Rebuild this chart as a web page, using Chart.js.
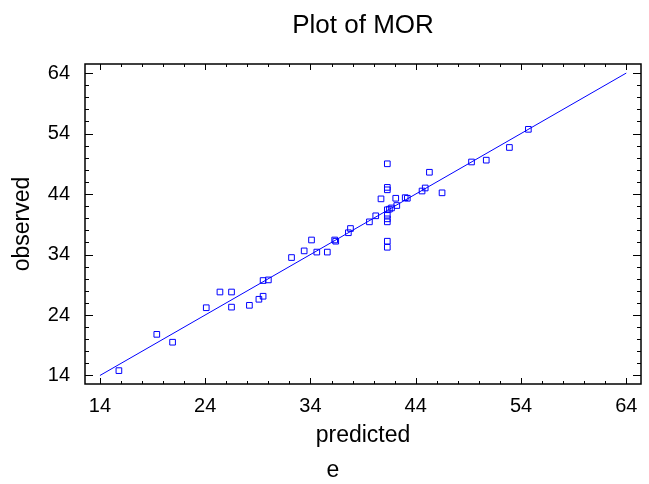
<!DOCTYPE html>
<html lang="en">
<head>
    <meta charset="UTF-8">
    <title>Plot of MOR</title>
    <script src="https://cdn.jsdelivr.net/npm/chart.js"></script>
    <style>
        body { margin: 0; background: #fff; }
    </style>
</head>
<body>
    <canvas id="myChart" width="649" height="484"></canvas>

<script>
    const predicted = [15.8, 19.4, 20.9, 24.1, 25.4, 26.5, 26.5, 28.2, 29.1, 29.5,
        29.5, 30.0, 32.2, 33.4, 34.1, 34.6, 35.6, 36.3, 36.4, 37.6,
        37.8, 39.6, 40.2, 40.7, 41.3, 41.3, 41.3, 41.3, 41.3, 41.3,
        41.3, 41.3, 41.3, 41.5, 41.7, 42.1, 42.2, 43.0, 43.2, 44.6,
        44.9, 45.3, 46.5, 49.3, 50.7, 52.9, 54.7]
    const observed = [14.8, 20.8, 19.5, 25.2, 27.8, 27.8, 25.3, 25.6, 26.6, 27.1,
        29.7, 29.8, 33.5, 34.6, 36.4, 34.4, 34.4, 36.4, 36.2, 37.6,
        38.3, 39.4, 40.4, 43.2, 49.0, 45.1, 44.7, 41.4, 40.5, 39.9,
        39.4, 36.2, 35.2, 41.5, 41.7, 43.3, 42.1, 43.4, 43.3, 44.5,
        45.0, 47.6, 44.2, 49.3, 49.6, 51.7, 54.7]

    // reference line (observed = predicted)
    const lineX = [14, 64]
    const lineY = [14, 64]

    const tickValues = [14, 24, 34, 44, 54, 64]
    const minorStep = 2
    const xMin = 12.58, xMax = 65.4
    const yMin = 12.59, yMax = 65.5

    const fontFamily = '"Liberation Sans", Arial, Helvetica, sans-serif'

    const framePlugin = {
        id: 'frame',
        afterDraw(chart) {
            const { ctx, chartArea: a, scales } = chart
            const x = scales.x, y = scales.y
            ctx.save()
            ctx.strokeStyle = '#000'
            ctx.lineWidth = 1
            ctx.beginPath()
            for (let v = tickValues[0]; v <= tickValues[tickValues.length - 1]; v += minorStep) {
                const major = tickValues.includes(v)
                const px = Math.round(x.getPixelForValue(v)) + 0.5
                const lx = major ? 6 : 3
                ctx.moveTo(px, a.bottom); ctx.lineTo(px, a.bottom - lx)
                ctx.moveTo(px, a.top); ctx.lineTo(px, a.top + lx)
                const py = Math.round(y.getPixelForValue(v)) + 0.5
                const ly = major ? 8 : 4
                ctx.moveTo(a.left, py); ctx.lineTo(a.left + ly, py)
                ctx.moveTo(a.right, py); ctx.lineTo(a.right - ly, py)
            }
            ctx.stroke()
            ctx.lineWidth = 1.5
            ctx.strokeRect(a.left, a.top, a.right - a.left, a.bottom - a.top)

            // title and the small label under the x title
            ctx.fillStyle = '#000'
            ctx.textAlign = 'center'
            ctx.textBaseline = 'alphabetic'
            ctx.font = '26px ' + fontFamily
            ctx.fillText('Plot of MOR', (a.left + a.right) / 2, 33)
            ctx.font = '23px ' + fontFamily
            ctx.fillText('e', 333, 477)
            ctx.restore()
        }
    }

    const ctx = document.getElementById('myChart')
    new Chart(ctx, {
        type: 'scatter',
        data: {
            datasets: [{
                data: lineX.map((v, i) => ({ x: v, y: lineY[i] })),
                showLine: true,
                borderColor: '#0000ff',
                borderWidth: 1,
                pointRadius: 0
            }, {
                data: predicted.map((v, i) => ({ x: v, y: observed[i] })),
                pointStyle: 'rect',
                pointRadius: 4,
                borderWidth: 1,
                borderColor: '#0000ff',
                backgroundColor: 'rgba(0,0,0,0)'
            }]
        },
        options: {
            responsive: false,
            animation: false,
            events: [],
            layout: { padding: { top: 64, right: 8, left: 0, bottom: 0 } },
            plugins: {
                legend: { display: false },
                tooltip: { enabled: false },
                title: { display: false }
            },
            scales: {
                x: {
                    type: 'linear',
                    min: xMin,
                    max: xMax,
                    grid: { display: false },
                    border: { display: false },
                    afterBuildTicks: s => { s.ticks = tickValues.map(v => ({ value: v })) },
                    afterFit: s => { s.height = 100 },
                    ticks: {
                        padding: 2, color: '#000', autoSkip: false, maxRotation: 0,
                        font: { family: fontFamily, size: 20 }
                    },
                    title: {
                        display: true, text: 'predicted', color: '#000',
                        font: { family: fontFamily, size: 23 },
                        padding: { top: 0, bottom: 35 }
                    }
                },
                y: {
                    type: 'linear',
                    min: yMin,
                    max: yMax,
                    grid: { display: false },
                    border: { display: false },
                    afterBuildTicks: s => { s.ticks = tickValues.map(v => ({ value: v })) },
                    afterFit: s => { s.width = 85 },
                    ticks: {
                        padding: 7, color: '#000', autoSkip: false,
                        font: { family: fontFamily, size: 20 }
                    },
                    title: {
                        display: true, text: 'observed', color: '#000',
                        font: { family: fontFamily, size: 23 },
                        padding: { top: 9, bottom: 0 }
                    }
                }
            }
        },
        plugins: [framePlugin]
    });
</script>
</body>
</html>
